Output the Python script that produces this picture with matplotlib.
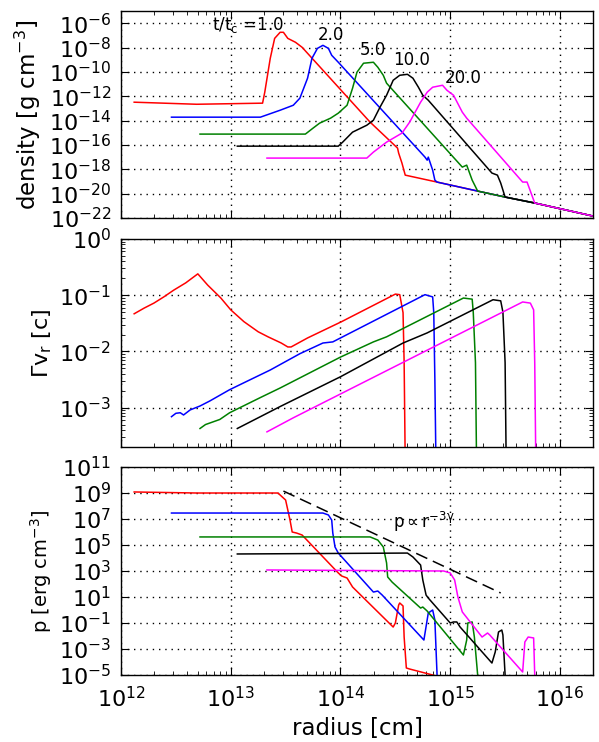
import numpy as np
import matplotlib
matplotlib.use("Agg")
import matplotlib.pyplot as plt

# all values are log10 of radius [cm] and of the plotted quantity
times = ["1.0", "2.0", "5.0", "10.0", "20.0"]
colors = ["#ff0000", "#0000ff", "#008000", "#000000", "#ff00ff"]

# density
lr_rho_1 = [12.12, 12.69, 13.29, 13.31, 13.36, 13.40, 13.45, 13.48, 13.52, 13.59, 13.65, 14.27, 14.52, 14.53,
            14.56, 14.59, 14.88, 15.25, 15.50, 15.77, 16.30]
lrho_1 = [-12.49, -12.66, -12.57, -11.67, -8.89, -7.25, -6.75, -6.75, -7.25, -7.57, -7.98, -14.13, -16.26, -16.67,
          -17.49, -18.48, -19.05, -19.79, -20.28, -20.77, -21.84]
lr_rho_2 = [12.46, 13.27, 13.45, 13.57, 13.63, 13.70, 13.74, 13.79, 13.84, 13.89, 13.92, 13.98, 14.77, 14.79,
            14.80, 14.84, 14.86, 14.88, 15.25, 15.50, 15.77, 16.30]
lrho_2 = [-13.72, -13.72, -13.15, -12.74, -12.16, -10.52, -8.89, -8.07, -7.82, -8.07, -8.64, -9.21, -17.00, -17.25,
          -17.00, -18.07, -18.89, -19.05, -19.79, -20.28, -20.77, -21.84]
lr_rho_5 = [12.72, 13.68, 13.75, 13.81, 13.91, 13.98, 14.06, 14.11, 14.15, 14.21, 14.30, 14.34, 14.39, 14.42,
            15.11, 15.15, 15.20, 15.25, 15.50, 15.77, 16.30]
lrho_5 = [-15.11, -15.11, -14.62, -14.21, -13.80, -13.39, -12.74, -11.34, -10.03, -9.29, -9.21, -9.62, -10.28, -10.93,
          -17.82, -17.66, -18.89, -19.79, -20.28, -20.77, -21.84]
lr_rho_10 = [13.06, 13.98, 14.02, 14.11, 14.24, 14.30, 14.36, 14.42, 14.48, 14.54, 14.61, 14.66, 14.71, 14.75,
             14.80, 15.38, 15.43, 15.46, 15.50, 15.77, 16.30]
lrho_10 = [-16.10, -16.10, -15.77, -14.95, -14.38, -13.97, -12.90, -11.92, -10.69, -10.28, -10.20, -10.52, -11.26,
           -11.92, -12.33, -18.31, -18.48, -19.13, -20.28, -20.77, -21.84]
lr_rho_20 = [13.33, 14.24, 14.30, 14.42, 14.56, 14.63, 14.73, 14.79, 14.84, 14.93, 14.97, 15.03, 15.11, 15.15,
             15.66, 15.70, 15.77, 16.30]
lrho_20 = [-17.08, -17.08, -16.59, -15.77, -15.03, -14.13, -12.49, -11.67, -11.26, -11.10, -11.51, -11.92, -13.31,
           -13.80, -19.05, -19.05, -20.77, -21.84]

# Gamma v_r
lr_v_1 = [12.12, 12.21, 12.30, 12.39, 12.48, 12.59, 12.70, 12.79, 12.91, 13.00, 13.12, 13.25, 13.34, 13.46,
          13.52, 13.55, 13.70, 14.01, 14.50, 14.54, 14.57, 14.58, 14.59]
lv_1 = [-1.33, -1.23, -1.14, -1.03, -0.91, -0.78, -0.62, -0.82, -1.05, -1.26, -1.47, -1.65, -1.74, -1.85,
        -1.92, -1.92, -1.76, -1.47, -0.98, -0.99, -1.31, -2.20, -4.0]
lr_v_2 = [12.46, 12.50, 12.54, 12.57, 12.63, 12.72, 12.81, 12.99, 13.18, 13.36, 13.63, 13.84, 13.93, 14.00,
          14.77, 14.84, 14.85, 14.86, 14.87]
lv_2 = [-3.16, -3.10, -3.09, -3.13, -3.04, -2.97, -2.88, -2.68, -2.50, -2.33, -2.04, -1.85, -1.83, -1.76,
        -0.99, -1.03, -1.31, -2.50, -4.0]
lr_v_5 = [12.72, 12.77, 12.90, 12.99, 13.27, 13.45, 13.63, 14.00, 14.30, 14.42, 15.12, 15.20, 15.21, 15.23, 15.24]
lv_5 = [-3.37, -3.30, -3.21, -3.09, -2.82, -2.65, -2.47, -2.10, -1.83, -1.74, -1.05, -1.07, -1.31, -2.20, -4.0]
lr_v_10 = [13.06, 13.45, 14.00, 14.57, 14.79, 15.39, 15.46, 15.48, 15.50, 15.51]
lv_10 = [-3.37, -2.98, -2.45, -1.85, -1.67, -1.08, -1.10, -1.30, -2.20, -4.0]
lr_v_20 = [13.33, 13.57, 15.66, 15.73, 15.76, 15.77, 15.78]
lv_20 = [-3.43, -3.18, -1.12, -1.14, -1.26, -2.20, -4.0]

# pressure
lr_p_1 = [12.12, 12.69, 13.43, 13.50, 13.52, 13.54, 13.56, 13.60, 13.65, 13.98, 14.01, 14.06, 14.11, 14.48,
          14.50, 14.53, 14.54, 14.57, 14.58, 14.60, 14.63, 14.84, 14.91]
lp_1 = [9.08, 9.00, 9.00, 8.46, 7.69, 6.92, 6.00, 5.92, 5.77, 2.85, 2.62, 2.46, 1.77, -1.31,
        -1.00, 0.38, 0.54, 0.31, -2.08, -4.46, -4.54, -5.0, -5.23]
lr_p_2 = [12.46, 13.84, 13.89, 13.92, 13.93, 13.95, 13.98, 14.30, 14.34, 14.38, 14.76, 14.80, 14.84, 14.86,
          14.88, 14.89]
lp_2 = [7.46, 7.46, 7.31, 6.92, 5.92, 4.85, 4.38, 1.38, 1.46, 1.15, -2.31, -0.23, 0.0, -0.77, -5.0, -5.38]
lr_p_5 = [12.72, 14.27, 14.34, 14.39, 14.42, 14.43, 14.47, 14.73, 14.75, 14.79, 15.12, 15.15, 15.16, 15.20,
          15.22, 15.25, 15.26]
lp_5 = [5.62, 5.62, 5.38, 4.85, 3.62, 2.54, 2.15, 0.15, 0.23, -0.08, -3.46, -2.31, -1.00, -0.92, -2.08, -5.0, -5.38]
lr_p_10 = [13.06, 14.61, 14.66, 14.73, 14.75, 14.78, 14.80, 15.00, 15.03, 15.06, 15.09, 15.38, 15.41, 15.44,
           15.47, 15.48, 15.50, 15.51]
lp_10 = [4.31, 4.38, 4.08, 3.46, 2.31, 1.15, 0.92, -1.00, -0.92, -0.92, -1.31, -4.08, -3.23, -1.69,
         -1.54, -1.92, -5.0, -5.38]
lr_p_20 = [13.33, 14.94, 15.00, 15.04, 15.07, 15.11, 15.29, 15.34, 15.36, 15.66, 15.68, 15.71, 15.76, 15.77, 15.78]
lp_20 = [3.08, 3.00, 2.85, 2.31, 1.00, -0.15, -2.08, -1.77, -1.92, -4.77, -2.46, -2.08, -2.15, -5.0, -5.38]

# p ~ r^-3gamma guide line
lr_guide = [13.48, 15.46]
lp_guide = [9.15, 1.31]

# label positions (log10 r, log10 rho)
lr_lab = [12.83, 13.79, 14.18, 14.48, 14.95]
lrho_lab = [-6.18, -7.0, -8.23, -9.05, -10.52]

rho_r = [lr_rho_1, lr_rho_2, lr_rho_5, lr_rho_10, lr_rho_20]
rho_y = [lrho_1, lrho_2, lrho_5, lrho_10, lrho_20]
v_r = [lr_v_1, lr_v_2, lr_v_5, lr_v_10, lr_v_20]
v_y = [lv_1, lv_2, lv_5, lv_10, lv_20]
p_r = [lr_p_1, lr_p_2, lr_p_5, lr_p_10, lr_p_20]
p_y = [lp_1, lp_2, lp_5, lp_10, lp_20]

plt.rcParams['mathtext.default'] = 'regular'
plt.rcParams['xtick.direction'] = 'in'
plt.rcParams['ytick.direction'] = 'in'
plt.rcParams['xtick.top'] = True
plt.rcParams['ytick.right'] = True
plt.rcParams['xtick.major.size'] = 6
plt.rcParams['ytick.major.size'] = 6
plt.rcParams['xtick.minor.size'] = 3
plt.rcParams['ytick.minor.size'] = 3
plt.rcParams['xtick.major.pad'] = 8
plt.rcParams['ytick.major.pad'] = 7
plt.rcParams['axes.linewidth'] = 1.0

fig = plt.figure(figsize=(5.99, 7.42), dpi=100)
ax1 = fig.add_axes([0.202, 0.7062, 0.788, 0.279])
ax2 = fig.add_axes([0.202, 0.3976, 0.788, 0.2803], sharex=ax1)
ax3 = fig.add_axes([0.202, 0.0903, 0.788, 0.2803], sharex=ax1)

for i in range(5):
    ax1.plot(10**np.array(rho_r[i]), 10**np.array(rho_y[i]), color=colors[i], lw=1.1)
    ax2.plot(10**np.array(v_r[i]), 10**np.array(v_y[i]), color=colors[i], lw=1.1)
    ax3.plot(10**np.array(p_r[i]), 10**np.array(p_y[i]), color=colors[i], lw=1.1)

ax3.plot(10**np.array(lr_guide), 10**np.array(lp_guide), color='k', lw=1.1, dashes=(8, 4))
ax3.text(10**14.48, 10**6.77, r'$p\propto r^{-3\gamma}$', fontsize=12, va='center')

for i in range(5):
    s = times[i]
    if i == 0:
        s = r'$t/t_c$ =' + s
    ax1.text(10**lr_lab[i], 10**lrho_lab[i], s, fontsize=12, va='center')

for ax in [ax1, ax2, ax3]:
    ax.set_xscale('log')
    ax.set_yscale('log')
    ax.grid(True, which='major', color='k', linestyle=(0, (1, 3.5)), lw=1.0)
    ax.tick_params(labelsize=16)

ax1.set_xlim(1e12, 2e16)
ax1.set_ylim(1e-22, 1e-5)
ax1.set_yticks([10.0**k for k in range(-22, -5, 2)])
ax2.set_ylim(2e-4, 1)
ax2.set_yticks([1e-3, 1e-2, 1e-1, 1e0])
ax3.set_ylim(1e-5, 1e11)
ax3.set_yticks([10.0**k for k in range(-5, 12, 2)])
ax3.set_xticks([1e12, 1e13, 1e14, 1e15, 1e16])

plt.setp(ax1.get_xticklabels(), visible=False)
plt.setp(ax2.get_xticklabels(), visible=False)

ax1.set_ylabel(r'density [g cm$^{-3}$]', fontsize=16.5)
ax2.set_ylabel(r'$\Gamma v_r$ [c]', fontsize=16)
ax3.set_ylabel(r'p [erg cm$^{-3}$]', fontsize=14)
ax3.set_xlabel('radius [cm]', fontsize=16.5)

fig.savefig('out.png', dpi=100)
